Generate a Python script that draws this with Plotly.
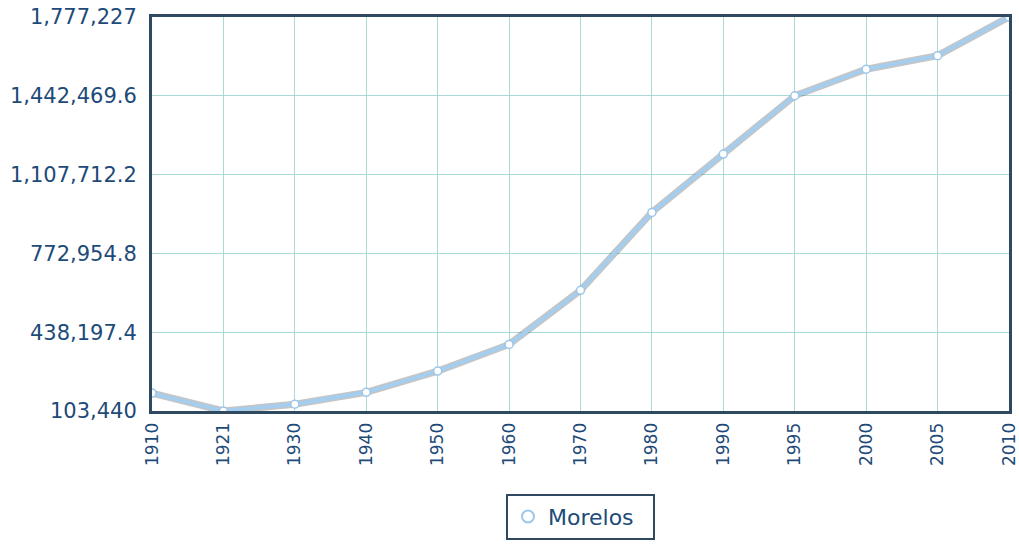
import plotly.graph_objects as go

years = ["1910", "1921", "1930", "1940", "1950", "1960", "1970",
         "1980", "1990", "1995", "2000", "2005", "2010"]
population = [179594, 103440, 132068, 182711, 272842, 386264, 616119,
              947089, 1195059, 1442662, 1555296, 1612899, 1777227]

y_min, y_max = 103440, 1777227
y_ticks = [103440, 438197.4, 772954.8, 1107712.2, 1442469.6, 1777227]
y_ticktext = ["103,440", "438,197.4", "772,954.8", "1,107,712.2",
              "1,442,469.6", "1,777,227"]

FONT = "Verdana, DejaVu Sans, sans-serif"
TEXT = "#1d4a78"
FRAME = "#2f4a60"
GRID = "#a9dad6"

fig = go.Figure()

# soft shadow under the line
fig.add_trace(go.Scatter(
    x=years, y=population, mode="lines",
    line=dict(color="rgba(90,90,90,0.35)", width=7),
    showlegend=False, hoverinfo="skip",
))

# main series
fig.add_trace(go.Scatter(
    x=years, y=population, mode="lines+markers",
    line=dict(color="#a4cdee", width=4),
    marker=dict(size=8, color="white", line=dict(color="#9cc6ea", width=1.5)),
    name="Morelos", showlegend=False,
))

# legend entry (marker only)
fig.add_trace(go.Scatter(
    x=[None], y=[None], mode="markers",
    marker=dict(size=12, color="white", line=dict(color="#9cc6ea", width=2)),
    name="Morelos  ",
))

fig.update_layout(
    width=1019, height=548,
    paper_bgcolor="white", plot_bgcolor="white",
    margin=dict(l=152, r=10, t=17, b=137, autoexpand=False),
    font=dict(family=FONT, color=TEXT),
    xaxis=dict(
        type="category", range=[0, 12], automargin=False,
        ticklabeloverflow="allow",
        tickangle=-90, tickfont=dict(size=17, color=TEXT),
        showgrid=True, gridcolor=GRID, gridwidth=1,
        showline=True, linecolor=FRAME, linewidth=3, mirror=True,
        ticks="", ticklabelstandoff=2,
    ),
    yaxis=dict(
        range=[y_min, y_max], tickvals=y_ticks, ticktext=y_ticktext,
        automargin=False, ticklabeloverflow="allow",
        tickfont=dict(size=21, color=TEXT),
        showgrid=True, gridcolor=GRID, gridwidth=1,
        showline=True, linecolor=FRAME, linewidth=3, mirror=True,
        zeroline=False, ticks="", ticklabelstandoff=8,
    ),
    legend=dict(
        orientation="h", x=0.5, xanchor="center", y=-0.21, yanchor="top",
        bordercolor=FRAME, borderwidth=2, bgcolor="white",
        font=dict(size=22, color=TEXT),
    ),
)

# drop the default page margin so the figure sits at the window corner
fig.write_html("out.html", config={"displayModeBar": False},
               post_script="document.body.style.margin='0';")
